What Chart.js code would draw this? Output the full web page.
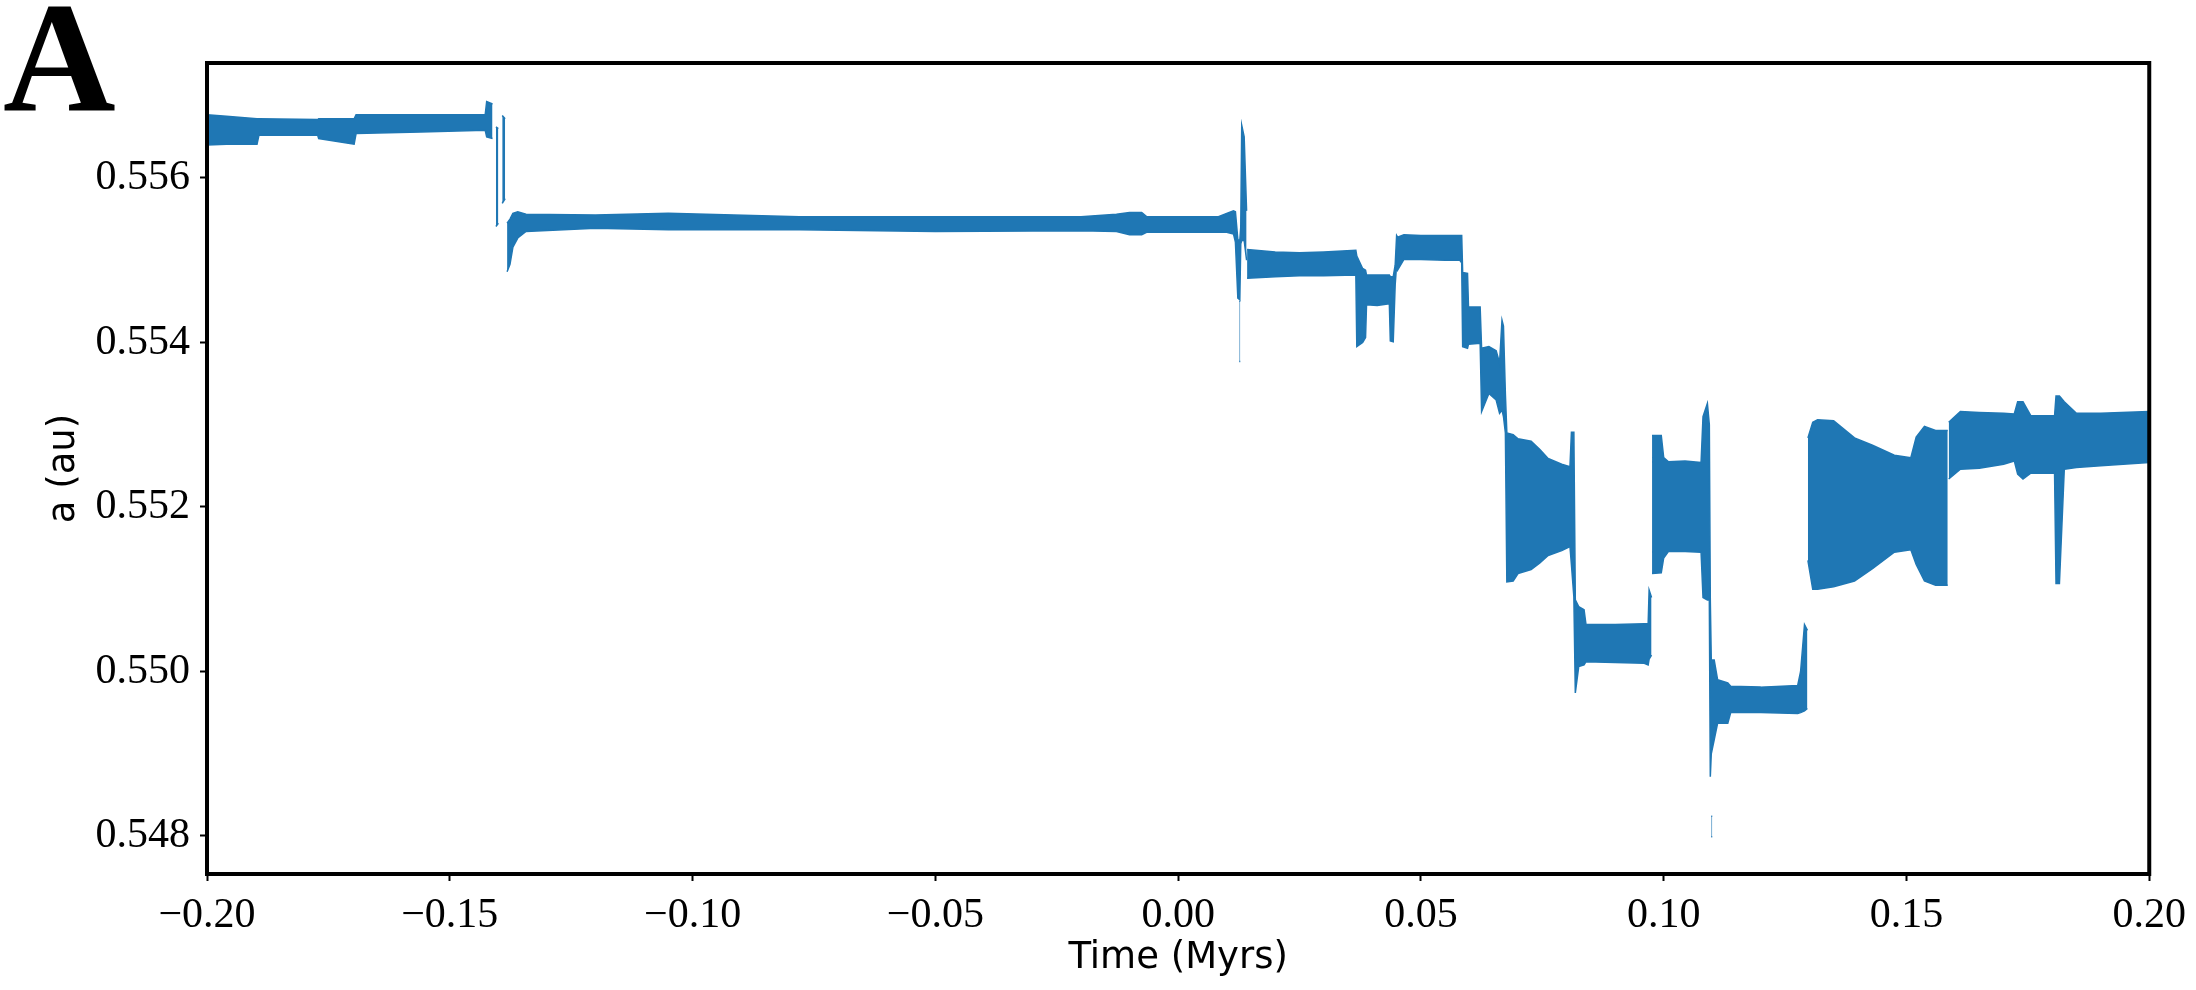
<!DOCTYPE html>
<html>
<head>
<meta charset="utf-8">
<script src="https://cdn.jsdelivr.net/npm/chart.js@4/dist/chart.umd.min.js"></script>
<style>
  html, body { margin: 0; padding: 0; background: #fff; }
  canvas { display: block; }
</style>
</head>
<body>
<canvas id="chartA" width="2196" height="990"></canvas>
<script>
// envelope of the scatter band: time (Myrs), upper and lower a (au); null = break between pieces
const time = [
  -0.2000, -0.1960, -0.1897, -0.1893, -0.1772, -0.1770, -0.1697, -0.1693, -0.1560, -0.1427, -0.1424, -0.1412, null,
  -0.1405, -0.1400, null,
  -0.1392, -0.1386, null,
  -0.1382, -0.1376, -0.1370, -0.1360, -0.1343, -0.1200, -0.1050, -0.0780, -0.0500, -0.0200, -0.0127, -0.0100,
  -0.0075, -0.0065, 0.0083, 0.0100, 0.0114, 0.0118, 0.0123, 0.0127, 0.0129, 0.0131, 0.0136, 0.0141, null,
  0.0126, 0.0128, null,
  0.0142, 0.0200, 0.0250, 0.0300, 0.0366, 0.0368, 0.0380, 0.0386, 0.0388, 0.0410, 0.0435, 0.0437, 0.0443, 0.0447,
  0.0450, 0.0452, 0.0465, 0.0500, 0.0550, 0.0580, 0.0584, 0.0586, 0.0596, 0.0598, 0.0622, 0.0625, 0.0640, 0.0655,
  0.0662, 0.0667, 0.0670, 0.0674, 0.0677, 0.0690, 0.0700, 0.0727, 0.0745, 0.0762, 0.0790, 0.0807, 0.0810, 0.0815,
  0.0818, 0.0825, 0.0836, 0.0840, 0.0900, 0.0960, 0.0968, 0.0970, 0.0975, null,
  0.0976, 0.0995, 0.1000, 0.1010, 0.1044, 0.1077, 0.1081, 0.1090, 0.1094, 0.1096, 0.1098, 0.1104, 0.1111, 0.1132,
  0.1138, 0.1200, 0.1276, 0.1282, 0.1290, 0.1296, null,
  0.1098, 0.1100, null,
  0.1297, 0.1307, 0.1317, 0.1350, 0.1393, 0.1430, 0.1475, 0.1509, 0.1520, 0.1537, 0.1560, 0.1585, null,
  0.1587, 0.1611, 0.1650, 0.1700, 0.1722, 0.1729, 0.1740, 0.1756, 0.1805, 0.1808, 0.1815, 0.1825, 0.1850, 0.1900, 0.2000
];
const upper = [
  0.55677, 0.55675, 0.55672, 0.55672, 0.55671, 0.55672, 0.55672, 0.55677, 0.55677, 0.55677, 0.55693, 0.55690, null,
  0.55662, 0.55660, null,
  0.55676, 0.55672, null,
  0.55545, 0.55550, 0.55557, 0.55559, 0.55556, 0.55555, 0.55557, 0.55553, 0.55553, 0.55553, 0.55556, 0.55558,
  0.55558, 0.55553, 0.55553, 0.55557, 0.55560, 0.55559, 0.55525, 0.55524, 0.55540, 0.55664, 0.55650, 0.55560, null,
  0.55450, 0.55450, null,
  0.55513, 0.55510, 0.55509, 0.55510, 0.55512, 0.55505, 0.55490, 0.55488, 0.55482, 0.55482, 0.55482, 0.55480, 0.55480, 0.55494,
  0.55530, 0.55528, 0.55531, 0.55530, 0.55530, 0.55530, 0.55530, 0.55485, 0.55484, 0.55443, 0.55443, 0.55393, 0.55395, 0.55390,
  0.55375, 0.55427, 0.55420, 0.55337, 0.55290, 0.55288, 0.55283, 0.55280, 0.55270, 0.55259, 0.55252, 0.55249, 0.55291, 0.55291,
  0.55087, 0.55079, 0.55075, 0.55057, 0.55057, 0.55058, 0.55058, 0.55099, 0.55090, null,
  0.55287, 0.55287, 0.55260, 0.55255, 0.55256, 0.55254, 0.55310, 0.55326, 0.55300, 0.55087, 0.55014, 0.55014, 0.54990, 0.54986,
  0.54982, 0.54981, 0.54983, 0.55000, 0.55057, 0.55050, null,
  0.54824, 0.54824, null,
  0.55284, 0.55303, 0.55306, 0.55305, 0.55284, 0.55275, 0.55263, 0.55260, 0.55285, 0.55298, 0.55293, 0.55293, null,
  0.55303, 0.55316, 0.55315, 0.55314, 0.55313, 0.55328, 0.55328, 0.55311, 0.55311, 0.55335, 0.55335, 0.55328, 0.55314, 0.55314, 0.55316
];
const lower = [
  0.55640, 0.55641, 0.55641, 0.55652, 0.55652, 0.55648, 0.55641, 0.55654, 0.55656, 0.55658, 0.55650, 0.55648, null,
  0.55541, 0.55545, null,
  0.55569, 0.55575, null,
  0.55486, 0.55495, 0.55516, 0.55527, 0.55535, 0.55539, 0.55537, 0.55537, 0.55535, 0.55536, 0.55535, 0.55531,
  0.55531, 0.55534, 0.55534, 0.55534, 0.55532, 0.55522, 0.55454, 0.55452, 0.55520, 0.55524, 0.55524, 0.55500, null,
  0.55377, 0.55377, null,
  0.55478, 0.55480, 0.55481, 0.55481, 0.55482, 0.55395, 0.55400, 0.55406, 0.55446, 0.55445, 0.55447, 0.55402, 0.55401, 0.55470,
  0.55495, 0.55488, 0.55501, 0.55501, 0.55500, 0.55500, 0.55497, 0.55395, 0.55393, 0.55398, 0.55399, 0.55316, 0.55338, 0.55330,
  0.55314, 0.55318, 0.55310, 0.55290, 0.55109, 0.55110, 0.55119, 0.55124, 0.55132, 0.55141, 0.55147, 0.55152, 0.55130, 0.55091,
  0.54974, 0.55006, 0.55008, 0.55012, 0.55011, 0.55010, 0.55008, 0.55015, 0.55020, null,
  0.55119, 0.55120, 0.55138, 0.55146, 0.55146, 0.55145, 0.55090, 0.55087, 0.55087, 0.54872, 0.54900, 0.54917, 0.54937, 0.54937,
  0.54950, 0.54950, 0.54949, 0.54950, 0.54952, 0.54955, null,
  0.54799, 0.54799, null,
  0.55135, 0.55100, 0.55100, 0.55103, 0.55110, 0.55125, 0.55145, 0.55148, 0.55130, 0.55110, 0.55105, 0.55105, null,
  0.55234, 0.55246, 0.55247, 0.55252, 0.55256, 0.55240, 0.55234, 0.55241, 0.55241, 0.55107, 0.55107, 0.55246, 0.55248, 0.55250, 0.55254
];

const xTicks = [-0.20, -0.15, -0.10, -0.05, 0.00, 0.05, 0.10, 0.15, 0.20];
const yTicks = [0.548, 0.550, 0.552, 0.554, 0.556];
const xRange = [-0.2, 0.2];
const yRange = [0.547538, 0.557398];

const blue = 'rgb(31,119,180)';

// split the arrays at the nulls, one filled band per piece
const datasets = [];
let up = [], lo = [];
for (let i = 0; i <= time.length; i++) {
    if (i === time.length || time[i] === null) {
        if (up.length) {
            datasets.push({ data: up, borderColor: blue, borderWidth: 1.5, pointRadius: 0, fill: false });
            datasets.push({ data: lo, borderColor: blue, borderWidth: 1.5, pointRadius: 0, fill: '-1', backgroundColor: blue });
        }
        up = []; lo = [];
        continue;
    }
    up.push({ x: time[i], y: upper[i] });
    lo.push({ x: time[i], y: lower[i] });
}

const frame = {
    id: 'frame',
    afterDraw(chart) {
        const { ctx, chartArea: a } = chart;
        ctx.save();
        ctx.strokeStyle = '#000';
        ctx.lineWidth = 4;
        ctx.strokeRect(a.left, a.top, a.right - a.left, a.bottom - a.top);
        ctx.fillStyle = '#000';
        ctx.font = 'bold 156px "Liberation Serif"';
        ctx.textBaseline = 'alphabetic';
        ctx.fillText('A', 3, 110);
        ctx.restore();
    }
};

const fmtX = v => (v < -1e-9 ? '\u2212' : '') + Math.abs(v).toFixed(2);

const ctxA = document.getElementById('chartA').getContext('2d');
const chartA = new Chart(ctxA, {
    type: 'line',
    data: { datasets: datasets },
    plugins: [frame],
    options: {
        responsive: false,
        animation: false,
        devicePixelRatio: 1,
        layout: { padding: { top: 63, right: 44, left: 0, bottom: 0 } },
        plugins: { legend: { display: false }, tooltip: { enabled: false } },
        elements: { line: { tension: 0 } },
        scales: {
            x: {
                type: 'linear',
                min: xRange[0],
                max: xRange[1],
                afterBuildTicks: s => { s.ticks = xTicks.map(v => ({ value: v })); },
                afterFit: s => { s.height = 116; },
                grid: { display: true, drawOnChartArea: false, drawTicks: true, tickLength: 7, tickWidth: 2, tickColor: '#000' },
                border: { display: false },
                ticks: {
                    callback: v => fmtX(v),
                    color: '#000',
                    font: { family: 'Liberation Serif', size: 42 },
                    padding: 10,
                    maxRotation: 0,
                    autoSkip: false
                },
                title: {
                    display: true,
                    text: 'Time (Myrs)',
                    color: '#000',
                    font: { family: 'DejaVu Sans', size: 37 },
                    padding: { top: 0, bottom: 9 }
                }
            },
            y: {
                type: 'linear',
                min: yRange[0],
                max: yRange[1],
                afterBuildTicks: s => { s.ticks = yTicks.map(v => ({ value: v })); },
                afterFit: s => { s.width = 207; },
                grid: { display: true, drawOnChartArea: false, drawTicks: true, tickLength: 7, tickWidth: 2, tickColor: '#000' },
                border: { display: false },
                ticks: {
                    callback: v => v.toFixed(3),
                    color: '#000',
                    font: { family: 'Liberation Serif', size: 42 },
                    padding: 10
                },
                title: {
                    display: true,
                    text: 'a (au)',
                    color: '#000',
                    font: { family: 'DejaVu Sans', size: 37 },
                    padding: { top: 42, bottom: 0 }
                }
            }
        }
    }
});
</script>
</body>
</html>
